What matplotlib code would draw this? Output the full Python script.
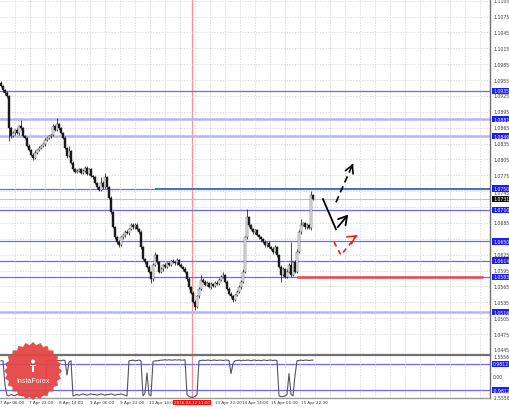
import matplotlib
matplotlib.use("Agg")
import matplotlib.pyplot as plt
from matplotlib.transforms import blended_transform_factory
from matplotlib.patches import Polygon, Circle, Rectangle
import numpy as np

# ---------------- data ----------------
first_open = 1.0950
closes = [
    1.0943, 1.0936, 1.0930, 1.0924, 1.0864, 1.0849, 1.0855, 1.0861, 1.0855, 1.0868,
    1.0864, 1.0849, 1.0846, 1.0831, 1.0823, 1.0814, 1.0808, 1.0818, 1.0823, 1.0827,
    1.0831, 1.0834, 1.0842, 1.0846, 1.0849, 1.0851, 1.0868, 1.0861, 1.0872, 1.0864,
    1.0855, 1.0846, 1.0827, 1.0812, 1.0821, 1.0799, 1.0786, 1.0782, 1.0784, 1.0786,
    1.0780, 1.0784, 1.0789, 1.0778, 1.0786, 1.0774, 1.0771, 1.0761, 1.0752, 1.0748,
    1.0761, 1.0752, 1.0771, 1.0752, 1.0733, 1.0705, 1.0677, 1.0658, 1.0649, 1.0643,
    1.0658, 1.0662, 1.0668, 1.0666, 1.0673, 1.0681, 1.0677, 1.0682, 1.0673, 1.0668,
    1.0639, 1.0617, 1.0611, 1.0602, 1.0593, 1.0579, 1.0606, 1.0624, 1.0611, 1.0593,
    1.0598, 1.0606, 1.0602, 1.0609, 1.0606, 1.0613, 1.0611, 1.0609, 1.0615, 1.0606,
    1.0602, 1.0598, 1.0593, 1.0579, 1.0564, 1.0553, 1.0536, 1.0527, 1.0546, 1.0561,
    1.0578, 1.0574, 1.0568, 1.0572, 1.0564, 1.0570, 1.0566, 1.0572, 1.0570, 1.0578,
    1.0583, 1.0587, 1.0574, 1.0561, 1.0551, 1.0546, 1.0540, 1.0549, 1.0555, 1.0564,
    1.0574, 1.0593, 1.0658, 1.0696, 1.0681, 1.0673, 1.0668, 1.0671, 1.0662, 1.0658,
    1.0654, 1.0649, 1.0643, 1.0647, 1.0639, 1.0636, 1.0630, 1.0639, 1.0624, 1.0602,
    1.0587, 1.0598, 1.0583, 1.0593, 1.0606, 1.0587, 1.0611, 1.0593, 1.0630, 1.0668,
    1.0681, 1.0684, 1.0677, 1.0681, 1.0675, 1.0737, 1.0731,
]
upper_wick_pips = [
    3, 2, 3, 4, 2, 3, 3, 2, 4, 3,
    11, 2, 3, 2, 3, 2, 3, 4, 2, 3,
    2, 3, 3, 2, 3, 2, 4, 3, 11, 2,
    3, 2, 3, 2, 10, 2, 3, 3, 2, 3,
    2, 3, 4, 3, 2, 3, 2, 3, 2, 3,
    10, 3, 9, 2, 3, 2, 3, 3, 2, 3,
    3, 2, 3, 3, 2, 4, 3, 2, 3, 2,
    3, 3, 2, 3, 3, 2, 4, 6, 3, 2,
    3, 2, 4, 3, 3, 2, 3, 3, 4, 2,
    3, 2, 3, 2, 3, 2, 3, 3, 2, 3,
    9, 2, 3, 3, 2, 3, 2, 3, 3, 2,
    3, 6, 2, 3, 2, 3, 3, 2, 3, 3,
    3, 4, 3, 15, 3, 2, 3, 3, 2, 3,
    2, 3, 3, 2, 3, 2, 3, 4, 2, 3,
    3, 3, 2, 4, 3, 43, 3, 4, 5, 4,
    11, 3, 2, 3, 2, 9, 3,
]
lower_wick_pips = [
    2, 3, 3, 2, 25, 3, 2, 3, 2, 3,
    3, 2, 3, 3, 2, 3, 4, 2, 3, 2,
    3, 2, 3, 3, 2, 3, 2, 3, 2, 3,
    2, 3, 3, 4, 2, 3, 3, 2, 3, 2,
    3, 2, 3, 3, 2, 3, 3, 2, 3, 3,
    2, 3, 3, 2, 3, 3, 2, 3, 3, 4,
    2, 3, 3, 2, 3, 2, 3, 3, 2, 3,
    3, 2, 3, 3, 2, 7, 3, 2, 3, 3,
    2, 3, 3, 2, 3, 3, 2, 3, 3, 2,
    3, 3, 2, 3, 3, 2, 3, 6, 2, 3,
    3, 2, 3, 3, 2, 3, 3, 2, 3, 3,
    2, 3, 3, 2, 3, 3, 5, 2, 3, 3,
    3, 3, 2, 3, 3, 2, 3, 3, 2, 3,
    3, 2, 3, 3, 2, 3, 3, 2, 3, 3,
    13, 3, 3, 2, 3, 4, 3, 3, 3, 2,
    3, 2, 3, 3, 2, 3, 2,
]
indicator = [
    1.2, 1.2, -0.6,
    -1.35, -1.4, -1.3, -1.35, -1.4, -1.3, -1.25, -1.35, -1.4, -1.3,
    -1.35, -1.4, -1.35, -1.3, -1.4, -1.35, -1.3, -1.4, -1.35, -1.3,
    1.2, 1.25, 1.2, 1.22, 1.25, 1.2, 1.22, 1.2, 1.25, 1.22,
    0.15, 1.1, 1.2,
    -1.4, -1.35, -1.3, -1.35, -1.3, -1.25, -1.3, -1.35, -1.3, -1.25,
    -1.3, -1.3, -1.35, -1.3, -1.25, -1.3, -1.35, -1.3, -1.3, -1.25,
    -1.3, -1.35, -1.3, -1.3, -1.25, -1.3, -1.35, -1.4,
    1.2, 1.22, 1.25, 1.2, 1.22, 1.25, 1.2,
    -1.4, -1.2, 0.3, -1.3, -1.4,
    1.15, 1.2, 1.2, 1.22, 1.25, 1.25, 1.28, 1.25, 1.28, 1.25,
    1.25, 1.28, 1.25, 1.28, 1.25, 1.25, 1.28,
    -1.3, -1.45, -1.5, -1.5, -1.45, -1.3,
    1.2, 1.22, 1.25, 1.22, 1.25, 1.25, 1.22, 1.25, 1.25, 1.22,
    1.25, 1.25, 1.22, 1.25, 1.25, 1.22,
    0.25, 1.0,
    1.2, 1.22, 1.25, 1.2, 1.25, 1.22, 1.25, 1.25, 1.2, 1.25,
    1.25, 1.22, 1.25, 1.2, 1.25, 1.25, 1.22, 1.25, 1.25, 1.22,
    1.25, 1.22,
    -1.4, -1.45, -1.45, -1.4, -1.3,
    0.25, -1.3, -1.4, 0.1,
    1.2, 1.22, 1.25, 1.22, 1.25, 1.25, 1.22, 1.25, 1.25,
]

# grid price labels (those fully hidden behind level boxes in the reference are omitted)
price_labels = ["1.1105", "1.1075", "1.1045", "1.1015", "1.0985", "1.0955", "1.0925",
                "1.0895", "1.0865", "1.0835", "1.0805", "1.0775", "1.0745",
                "1.0685", "1.0625", "1.0595", "1.0565", "1.0535", "1.0505",
                "1.0475", "1.0445"]
price_grid = [1.1105, 1.1075, 1.1045, 1.1015, 1.0985, 1.0955, 1.0925, 1.0895, 1.0865,
              1.0835, 1.0805, 1.0775, 1.0745, 1.0715, 1.0685, 1.0655, 1.0625, 1.0595,
              1.0565, 1.0535, 1.0505, 1.0475]
level_labels = ["1.0935", "1.0881", "1.0849", "1.0750", "1.0710", "1.0650", "1.0614",
                "1.0583", "1.0516"]
levels_blue = [1.0935, 1.0750, 1.0710, 1.0650, 1.0614, 1.0583]
levels_light = [1.0881, 1.0849, 1.0516]
current_price = 1.0731
resistance_level = 1.0750
resistance_start_bar = 77
support_level = 1.0583
support_bars = [148, 241]
marker_bar = 95.5
marker_label = "2016.04.12 11:00"

time_labels = ["7 Apr 06:00", "7 Apr 22:00", "8 Apr 14:00", "9 Apr 06:00", "9 Apr 22:00",
               "10 Apr 14:00", "13 Apr 22:00", "14 Apr 14:00", "15 Apr 06:00", "15 Apr 22:00"]
time_label_bars = [-0.3, 14.2, 29.2, 44.5, 59.5, 74.0, 107.0, 120.3, 134.9, 149.9]

ind_labels = ["1.5556", "0.9812", "0.00", "-0.9812", "-1.5556"]
ind_levels = [0.9812, -0.9812]

# forecast arrows (bar index, price)
arrow_main_x = [161.0, 167.5, 174.5]
arrow_main_p = [1.0730, 1.0673, 1.0705]
arrow_up_x = [167.5, 176.0]
arrow_up_p = [1.0724, 1.0797]
arrow_red_x = [166.5, 170.0, 178.0]
arrow_red_p = [1.0649, 1.0624, 1.0662]

# ---------------- figure ----------------
W, H = 510, 410
fig = plt.figure(figsize=(W / 100, H / 100), dpi=100)
fig.patch.set_facecolor("white")
FONT = "DejaVu Sans"
FS = 3.3
TXT = "#383838"


def px_rect(x0, y0, x1, y1):
    return [x0 / W, 1 - y1 / H, (x1 - x0) / W, (y1 - y0) / H]


ax = fig.add_axes(px_rect(0, 0, 490, 355))
axi = fig.add_axes(px_rect(0, 356, 490, 399))

ax.set_xlim(-0.5, 244.5)
ax.set_ylim(1.04373, 1.11082)
axi.set_xlim(-0.5, 244.5)
axi.set_ylim(-1.556, 1.63)

grid_bars = np.arange(15, 490, 15) / 2.0 - 0.5
for a in (ax, axi):
    a.set_xticks(grid_bars)
    a.tick_params(length=0, labelleft=False, labelbottom=False)
    for s in ("left", "top", "bottom"):
        a.spines[s].set_visible(False)
    a.spines["right"].set_color("#707070")
    a.spines["right"].set_linewidth(1.0)
    a.set_facecolor("white")

ax.set_yticks(price_grid)
ax.grid(True, color="#cfcfcf", linestyle=(0, (2, 2)), linewidth=0.5)
axi.set_yticks([])
axi.grid(True, axis="x", color="#cfcfcf", linestyle=(0, (2, 2)), linewidth=0.5)
axi.spines["top"].set_visible(True)
axi.spines["top"].set_color("#707070")
axi.spines["top"].set_linewidth(1.6)
axi.spines["bottom"].set_visible(True)
axi.spines["bottom"].set_color("#9a9a9a")
axi.spines["bottom"].set_linewidth(1.0)

# horizontal levels
ax.axhline(current_price, color="#c4c4c4", lw=0.8, zorder=1)
for p in levels_blue:
    ax.axhline(p, color="#6a6aff", lw=0.9, zorder=1.5)
for p in levels_light:
    ax.axhline(p, color="#b2b2ff", lw=1.8, zorder=1.5)
ax.hlines(resistance_level, resistance_start_bar, 244.5, color="#3565b5", lw=1.3, zorder=1.6)
ax.hlines(resistance_level - 0.00012, resistance_start_bar, 244.5, color="#2e9a55", lw=0.7, zorder=1.6)
ax.hlines(support_level, support_bars[0], support_bars[1], color="#e84848", lw=1.8, zorder=1.6)

ax.axvline(marker_bar, color="#ff9090", lw=0.9, zorder=1.2)
axi.axvline(marker_bar, color="#ff9090", lw=0.9, zorder=1.2)

# candles
n = len(closes)
xs = np.arange(n)
opens = [first_open] + closes[:-1]
highs = [max(o, c) + u * 1e-4 for o, c, u in zip(opens, closes, upper_wick_pips)]
lows = [min(o, c) - l * 1e-4 for o, c, l in zip(opens, closes, lower_wick_pips)]
ax.vlines(xs, lows, highs, color="#1a1a1a", lw=0.55, zorder=3)
for i in range(n):
    o, c = opens[i], closes[i]
    bull = c >= o
    hgt = abs(c - o) if abs(c - o) > 0.00005 else 0.00005
    ax.add_patch(Rectangle((i - 0.3, min(o, c)), 0.6, hgt,
                           facecolor="#f0f0f0" if bull else "#1a1a1a",
                           edgecolor="#3a3a3a" if bull else "#1a1a1a", lw=0.3, zorder=3.5))

# forecast arrows
ax.plot(arrow_main_x[:2], arrow_main_p[:2], color="black", lw=1.3, zorder=5)
ax.annotate("", xy=(arrow_main_x[2], arrow_main_p[2]), xytext=(arrow_main_x[1], arrow_main_p[1]),
            arrowprops=dict(arrowstyle="->,head_length=0.6,head_width=0.35", color="black", lw=1.3),
            zorder=5)
ax.plot(arrow_up_x, arrow_up_p, color="black", lw=1.2, linestyle=(0, (4, 2.5)), zorder=5)
ax.annotate("", xy=(arrow_up_x[1], arrow_up_p[1]),
            xytext=(arrow_up_x[1] - 0.8, arrow_up_p[1] - 0.0007),
            arrowprops=dict(arrowstyle="->,head_length=0.55,head_width=0.3", color="black", lw=1.2),
            zorder=5)
ax.plot(arrow_red_x, arrow_red_p, color="#ee2020", lw=1.2, linestyle=(0, (3, 2.5)), zorder=5)
ax.annotate("", xy=(arrow_red_x[2], arrow_red_p[2]),
            xytext=(arrow_red_x[2] - 0.8, arrow_red_p[2] - 0.0002),
            arrowprops=dict(arrowstyle="->,head_length=0.55,head_width=0.3", color="#ee2020", lw=1.2),
            zorder=5)

# indicator
for lv in ind_levels:
    axi.axhline(lv, color="#6a6aff", lw=0.9, zorder=1.5)
axi.plot(np.arange(len(indicator)), indicator, color="#555555", lw=0.8, zorder=3)

# right-side price labels
tr = blended_transform_factory(ax.transAxes, ax.transData)
for s in price_labels:
    if s == "1.0745":
        # peeks out just below the 1.0750 level box
        ax.text(1.006, 1.07465, s, transform=tr, fontsize=FS, family=FONT, color=TXT,
                va="top", ha="left", clip_on=False)
    else:
        ax.text(1.006, float(s), s, transform=tr, fontsize=FS, family=FONT, color=TXT,
                va="center", ha="left", clip_on=False)
for s in level_labels:
    ax.text(1.006, float(s), s, transform=tr, fontsize=FS, family=FONT, color="white",
            va="center", ha="left", clip_on=False, zorder=6,
            bbox=dict(boxstyle="square,pad=0.12", fc="#1c1cff", ec="none"))
ax.text(1.006, current_price, "%.4f" % current_price, transform=tr, fontsize=FS, family=FONT,
        color="white", va="center", ha="left", clip_on=False, zorder=6,
        bbox=dict(boxstyle="square,pad=0.12", fc="#101010", ec="none"))

tri = blended_transform_factory(axi.transAxes, axi.transData)
for s in ind_labels:
    v = float(s)
    if abs(v) in ind_levels or -v in ind_levels:
        axi.text(1.006, v, s, transform=tri, fontsize=FS, family=FONT, color="white",
                 va="center", ha="left", clip_on=False, zorder=6,
                 bbox=dict(boxstyle="square,pad=0.12", fc="#1c1cff", ec="none"))
    else:
        axi.text(1.006, v, s, transform=tri, fontsize=FS, family=FONT, color=TXT,
                 va="center", ha="left", clip_on=False)

# time labels
trx = blended_transform_factory(axi.transData, axi.transAxes)
for b, s in zip(time_label_bars, time_labels):
    axi.text(b, -0.1, s, transform=trx, fontsize=3.0, family=FONT, color=TXT,
             va="center", ha="left", clip_on=False)
axi.text(marker_bar, -0.1, marker_label, transform=trx, fontsize=3.0, family=FONT, color="white",
         va="center", ha="center", clip_on=False, zorder=6,
         bbox=dict(boxstyle="square,pad=0.15", fc="#ff1010", ec="none"))

# logo overlay
ov = fig.add_axes([0, 0, 1, 1])
ov.set_xlim(0, W)
ov.set_ylim(H, 0)
ov.axis("off")
ov.set_zorder(10)
ov.patch.set_alpha(0)
cx, cy = 33, 372
N = 24
ang = np.linspace(0, 2 * np.pi, 2 * N, endpoint=False)
rad = np.where(np.arange(2 * N) % 2 == 0, 29, 26)
star = np.column_stack([cx + rad * np.cos(ang), cy + rad * np.sin(ang)])
ov.add_patch(Polygon(star, closed=True, facecolor="#e54545", edgecolor="none", alpha=0.95))
ov.add_patch(Circle((cx, 362.5), 2.0, facecolor="white", edgecolor="none"))
ov.add_patch(Rectangle((cx - 2.6, 365.5), 5.2, 1.5, facecolor="white", edgecolor="none"))
ov.add_patch(Rectangle((cx - 1.0, 366.5), 2.0, 6.0, facecolor="white", edgecolor="none"))
ov.text(cx, 382, "InstaForex", color="white", fontsize=5.0, family="Liberation Sans",
        ha="center", va="center")

fig.savefig("out.png", dpi=100, facecolor="white")
